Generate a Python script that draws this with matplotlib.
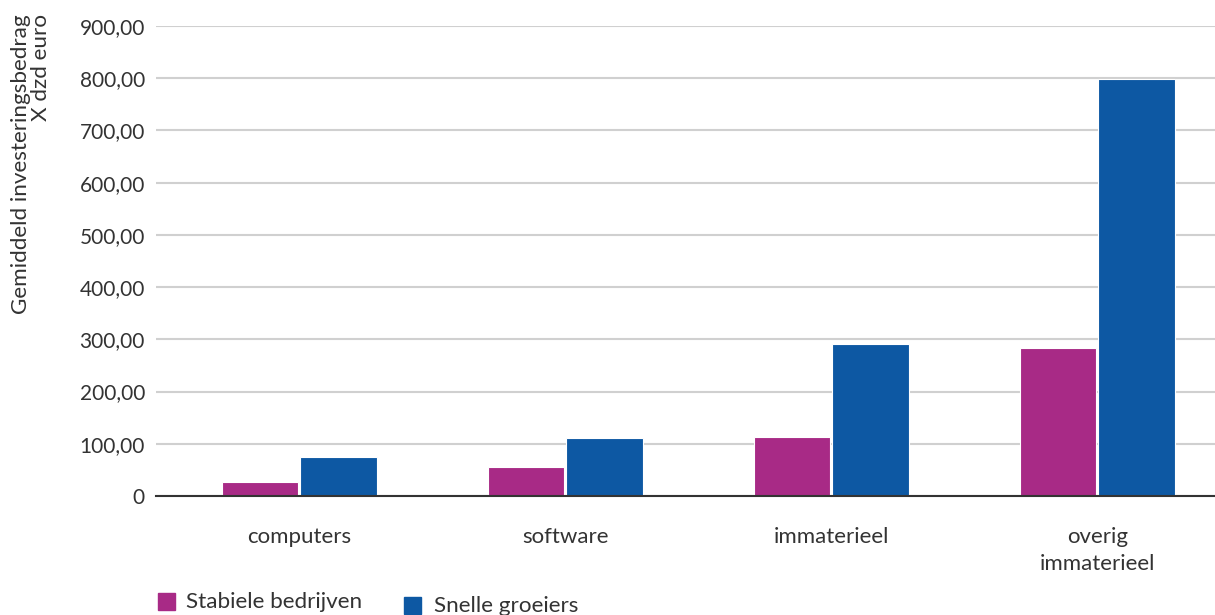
import matplotlib
matplotlib.use("Agg")
import matplotlib.pyplot as plt
import numpy as np
from matplotlib.patches import Rectangle

categories = ["computers", "software", "immaterieel", "overig\nimmaterieel"]
series_names = ["Stabiele bedrijven", "Snelle groeiers"]
stabiele = [26, 55, 113, 284]
snelle = [75, 112, 291, 798]
yticks = [0, 100, 200, 300, 400, 500, 600, 700, 800, 900]
ytick_labels = ["0", "100,00", "200,00", "300,00", "400,00", "500,00",
                "600,00", "700,00", "800,00", "900,00"]
colors = ["#A82A86", "#0D58A3"]

plt.rcParams['font.family'] = ['Lato', 'DejaVu Sans']
W, H = 1215, 615
fig = plt.figure(figsize=(W / 100, H / 100), dpi=100)
left, right, bottom, top = 156, 1215, 496, 26
ax = fig.add_axes([left / W, 1 - bottom / H, (right - left) / W, (bottom - top) / H])

x = np.arange(len(categories))
w = 0.287
off = 0.148
ax.bar(x - off, stabiele, width=w, color=colors[0], edgecolor="white", linewidth=0.8, zorder=3)
ax.bar(x + off, snelle, width=w, color=colors[1], edgecolor="white", linewidth=0.8, zorder=3)

ax.set_xlim(-0.538, 3.443)
ax.set_ylim(0, 900)
ax.set_yticks(yticks)
ax.set_yticklabels(ytick_labels, fontsize=15)
ax.set_xticks(x)
ax.set_xticklabels(categories, linespacing=1.45, fontsize=16)
ax.tick_params(axis='both', length=0, colors="#333333")
ax.tick_params(axis='y', pad=8)
ax.tick_params(axis='x', pad=22)
ax.grid(axis='y', color="#d0d0d0", linewidth=1.5, zorder=0)
for s in ["top", "right", "left"]:
    ax.spines[s].set_visible(False)
ax.spines["bottom"].set_color("#333333")
ax.spines["bottom"].set_linewidth(1.5)
ax.spines["bottom"].set_zorder(4)

fig.text(31 / W, 1 - 14 / H, "Gemiddeld investeringsbedrag\nX dzd euro", rotation=90,
         ha="center", va="top", multialignment="right", fontsize=16.2,
         color="#333333", linespacing=0.95)

# legend
leg = [(158, 593, 186), (404, 597, 434)]
for (sx, sy, tx), name, c in zip(leg, series_names, colors):
    fig.patches.append(Rectangle((sx / W, 1 - (sy + 17) / H), 17 / W, 17 / H,
                                 transform=fig.transFigure, color=c, figure=fig))
    fig.text(tx / W, 1 - (sy + 9) / H, name, ha="left", va="center",
             fontsize=16.2, color="#333333")

fig.savefig("out.png", dpi=100)
